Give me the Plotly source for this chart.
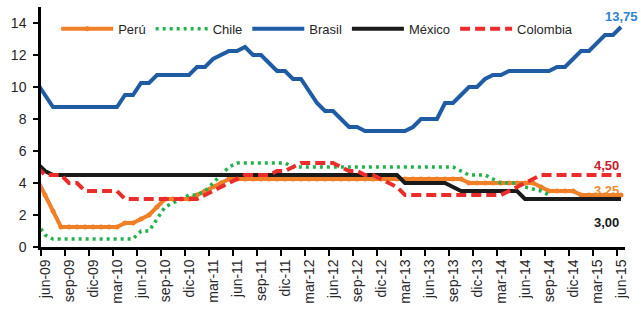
import plotly.graph_objects as go

# x positions: -1 = may-09 (only a sliver visible at the left edge), 0 = jun-09 ... 72 = jun-15
x_idx = list(range(-1, 73))

tick_labels = ["jun-09", "sep-09", "dic-09", "mar-10", "jun-10", "sep-10", "dic-10",
               "mar-11", "jun-11", "sep-11", "dic-11", "mar-12", "jun-12", "sep-12",
               "dic-12", "mar-13", "jun-13", "sep-13", "dic-13", "mar-14", "jun-14",
               "sep-14", "dic-14", "mar-15", "jun-15"]

peru = [
    4.25,
    3.25, 2.25, 1.25, 1.25, 1.25, 1.25, 1.25, 1.25, 1.25, 1.25, 1.5, 1.5,
    1.75, 2.0, 2.5, 3.0, 3.0, 3.0, 3.0, 3.25, 3.5, 3.75, 4.0, 4.25,
    4.25, 4.25, 4.25, 4.25, 4.25, 4.25, 4.25, 4.25, 4.25, 4.25, 4.25, 4.25,
    4.25, 4.25, 4.25, 4.25, 4.25, 4.25, 4.25, 4.25, 4.25, 4.25, 4.25, 4.25,
    4.25, 4.25, 4.25, 4.25, 4.25, 4.0, 4.0, 4.0, 4.0, 4.0, 4.0, 4.0,
    4.0, 4.0, 3.75, 3.5, 3.5, 3.5, 3.5, 3.25, 3.25, 3.25, 3.25, 3.25,
    3.25,
]

chile = [
    1.5,
    0.75, 0.5, 0.5, 0.5, 0.5, 0.5, 0.5, 0.5, 0.5, 0.5, 0.5, 0.5,
    1.0, 1.0, 1.75, 2.5, 2.75, 3.0, 3.25, 3.25, 3.5, 4.0, 4.5, 5.0,
    5.25, 5.25, 5.25, 5.25, 5.25, 5.25, 5.25, 5.0, 5.0, 5.0, 5.0, 5.0,
    5.0, 5.0, 5.0, 5.0, 5.0, 5.0, 5.0, 5.0, 5.0, 5.0, 5.0, 5.0,
    5.0, 5.0, 5.0, 5.0, 4.75, 4.5, 4.5, 4.5, 4.25, 4.0, 4.0, 4.0,
    3.75, 3.6, 3.5, 3.25, None, None, None, None, None, None, None, None,
    None,
]

brasil = [
    10.25,
    9.5, 8.75, 8.75, 8.75, 8.75, 8.75, 8.75, 8.75, 8.75, 8.75, 9.5, 9.5,
    10.25, 10.25, 10.75, 10.75, 10.75, 10.75, 10.75, 11.25, 11.25, 11.75, 12.0, 12.25,
    12.25, 12.5, 12.0, 12.0, 11.5, 11.0, 11.0, 10.5, 10.5, 9.75, 9.0, 8.5,
    8.5, 8.0, 7.5, 7.5, 7.25, 7.25, 7.25, 7.25, 7.25, 7.25, 7.5, 8.0,
    8.0, 8.0, 9.0, 9.0, 9.5, 10.0, 10.0, 10.5, 10.75, 10.75, 11.0, 11.0,
    11.0, 11.0, 11.0, 11.0, 11.25, 11.25, 11.75, 12.25, 12.25, 12.75, 13.25, 13.25,
    13.75,
]

mexico = [
    5.25,
    4.75, 4.5, 4.5, 4.5, 4.5, 4.5, 4.5, 4.5, 4.5, 4.5, 4.5, 4.5,
    4.5, 4.5, 4.5, 4.5, 4.5, 4.5, 4.5, 4.5, 4.5, 4.5, 4.5, 4.5,
    4.5, 4.5, 4.5, 4.5, 4.5, 4.5, 4.5, 4.5, 4.5, 4.5, 4.5, 4.5,
    4.5, 4.5, 4.5, 4.5, 4.5, 4.5, 4.5, 4.5, 4.5, 4.0, 4.0, 4.0,
    4.0, 4.0, 4.0, 3.75, 3.5, 3.5, 3.5, 3.5, 3.5, 3.5, 3.5, 3.5,
    3.0, 3.0, 3.0, 3.0, 3.0, 3.0, 3.0, 3.0, 3.0, 3.0, 3.0, 3.0,
    3.0,
]

colombia = [
    5.0,
    4.5, 4.5, 4.5, 4.0, 4.0, 3.5, 3.5, 3.5, 3.5, 3.5, 3.0, 3.0,
    3.0, 3.0, 3.0, 3.0, 3.0, 3.0, 3.0, 3.0, 3.25, 3.5, 3.75, 4.0,
    4.25, 4.5, 4.5, 4.5, 4.5, 4.75, 4.75, 5.0, 5.25, 5.25, 5.25, 5.25,
    5.25, 5.0, 4.75, 4.75, 4.5, 4.5, 4.25, 4.0, 3.75, 3.25, 3.25, 3.25,
    3.25, 3.25, 3.25, 3.25, 3.25, 3.25, 3.25, 3.25, 3.25, 3.25, 3.5, 3.75,
    4.0, 4.25, 4.5, 4.5, 4.5, 4.5, 4.5, 4.5, 4.5, 4.5, 4.5, 4.5,
    4.5,
]

C_PERU = "#F07F27"
C_CHILE = "#22B14C"
C_BRASIL = "#1F5CA4"
C_MEXICO = "#1A1A1A"
C_COL = "#EC2B2B"

FONT = "Arial, 'Liberation Sans', sans-serif"
TXT = "#262626"

fig = go.Figure()
fig.add_trace(go.Scatter(x=x_idx, y=peru, name="Perú", mode="lines+markers",
                         line=dict(color=C_PERU, width=4),
                         marker=dict(color=C_PERU, size=5)))
fig.add_trace(go.Scatter(x=x_idx, y=chile, name="Chile", mode="lines",
                         line=dict(color=C_CHILE, width=3.5, dash="3px,4px")))
fig.add_trace(go.Scatter(x=x_idx, y=brasil, name="Brasil", mode="lines",
                         line=dict(color=C_BRASIL, width=4)))
fig.add_trace(go.Scatter(x=x_idx, y=mexico, name="México", mode="lines",
                         line=dict(color=C_MEXICO, width=4)))
fig.add_trace(go.Scatter(x=x_idx, y=colombia, name="Colombia", mode="lines",
                         line=dict(color=C_COL, width=4, dash="10px,5px")))

def fmt(v):
    return f"{v:.2f}".replace(".", ",")

last = len(x_idx) - 1
fig.add_annotation(x=x_idx[last], y=brasil[last], text=f"<b>{fmt(brasil[last])}</b>",
                   showarrow=False, xanchor="center", yanchor="bottom", yshift=1,
                   font=dict(family=FONT, size=13, color="#2A84D2"))
fig.add_annotation(x=x_idx[last], y=colombia[last], text=f"<b>{fmt(colombia[last])}</b>",
                   showarrow=False, xanchor="right", yanchor="bottom", yshift=0,
                   font=dict(family=FONT, size=13, color="#C8202A"))
fig.add_annotation(x=x_idx[last], y=peru[last], text=f"<b>{fmt(peru[last])}</b>",
                   showarrow=False, xanchor="right", yanchor="bottom", yshift=-5,
                   font=dict(family=FONT, size=13, color="#F08A30"))
fig.add_annotation(x=x_idx[last], y=mexico[last], text=f"<b>{fmt(mexico[last])}</b>",
                   showarrow=False, xanchor="right", yanchor="top", yshift=-14,
                   font=dict(family=FONT, size=13, color="#1A1A1A"))

fig.update_layout(
    width=641, height=311,
    margin=dict(l=41, r=16, t=7, b=54),
    paper_bgcolor="white", plot_bgcolor="white",
    font=dict(family=FONT, size=13, color=TXT),
    showlegend=True,
    legend=dict(orientation="h", x=0.026, xanchor="left", y=0.909, yanchor="middle",
                bgcolor="rgba(0,0,0,0)", font=dict(family=FONT, size=13, color=TXT),
                itemwidth=52),
    hovermode=False,
)
fig.update_xaxes(
    range=[-0.5, 72.5],
    tickmode="array", tickvals=[i for i in range(0, 73, 3)], ticktext=tick_labels,
    tickangle=-90, ticks="", ticklabelstandoff=4,
    tickfont=dict(family=FONT, size=14, color=TXT),
    showline=True, linecolor="black", linewidth=2.5,
    showgrid=False, zeroline=False,
    minor=dict(tickmode="array", tickvals=[i - 0.5 for i in range(0, 73, 3)],
               ticks="outside", ticklen=6, tickwidth=2, tickcolor="black", showgrid=False),
)
fig.update_yaxes(
    range=[0, 15], tickmode="array", tickvals=[0, 2, 4, 6, 8, 10, 12, 14],
    ticks="outside", ticklen=5, tickwidth=2, tickcolor="black",
    tickfont=dict(family=FONT, size=14, color=TXT), ticklabelstandoff=4,
    showline=True, linecolor="black", linewidth=2.5,
    showgrid=False, zeroline=False,
)

fig.write_html("out.html", config={"displayModeBar": False},
               post_script="document.body.style.margin='0';")
